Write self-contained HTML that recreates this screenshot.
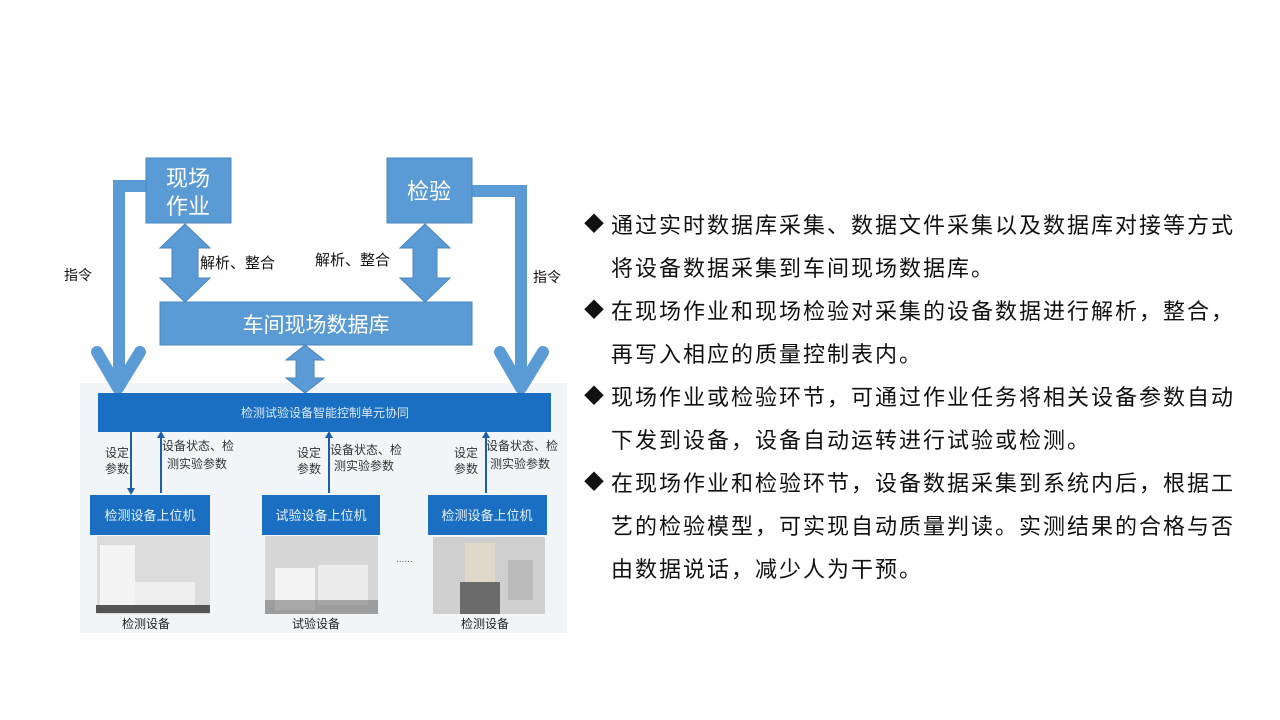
<!DOCTYPE html>
<html><head><meta charset="utf-8"><style>
body{margin:0;width:1280px;height:720px;background:#fff;overflow:hidden;position:relative;font-family:"Liberation Sans","Noto Sans CJK SC",sans-serif;}
.t{position:absolute;left:611px;font-size:22px;letter-spacing:2px;color:#111;line-height:43px;white-space:nowrap}
.b{position:absolute;left:584px;font-size:20px;color:#111;line-height:43px}
</style></head><body>
<svg width="1280" height="720" style="position:absolute;left:0;top:0" font-family="Liberation Sans, Noto Sans CJK SC, sans-serif">
<rect x="80" y="383" width="487" height="250" fill="#f2f5f8"/>
<path d="M146 186 H119 V385" fill="none" stroke="#5b9bd5" stroke-width="12"/>
<polyline points="97,352 118,388 140,352" fill="none" stroke="#5b9bd5" stroke-width="12" stroke-linecap="round" stroke-linejoin="round"/>
<path d="M471 191 H521 V385" fill="none" stroke="#5b9bd5" stroke-width="12"/>
<polyline points="500,352 521,388 543,352" fill="none" stroke="#5b9bd5" stroke-width="12" stroke-linecap="round" stroke-linejoin="round"/>
<rect x="146" y="158" width="85" height="65" fill="#5b9bd5" stroke="#4a86bd"/>
<text x="188" y="186" font-size="22" fill="#fff" text-anchor="middle">现场</text>
<text x="188" y="214" font-size="22" fill="#fff" text-anchor="middle">作业</text>
<rect x="387" y="158" width="85" height="65" fill="#5b9bd5" stroke="#4a86bd"/>
<text x="429" y="199" font-size="22" fill="#fff" text-anchor="middle">检验</text>
<polygon points="185,224 210,248 198,248 198,278 210,278 185,302 160,278 172,278 172,248 160,248" fill="#5b9bd5" stroke="#4a86bd"/>
<polygon points="425,224 450,248 437,248 437,278 450,278 425,302 400,278 413,278 413,248 400,248" fill="#5b9bd5" stroke="#4a86bd"/>
<text x="200" y="268" font-size="15" fill="#111">解析、整合</text>
<text x="315" y="265" font-size="15" fill="#111">解析、整合</text>
<text x="64" y="280" font-size="14" fill="#111">指令</text>
<text x="533" y="282" font-size="14" fill="#111">指令</text>
<rect x="160" y="302" width="312" height="43" fill="#5b9bd5" stroke="#4a86bd"/>
<text x="316" y="332" font-size="21" fill="#fff" text-anchor="middle">车间现场数据库</text>
<polygon points="305,345 324,360 314,360 314,378 324,378 305,393 286,378 296,378 296,360 286,360" fill="#5b9bd5" stroke="#4a86bd"/>
<rect x="98" y="393" width="453" height="39" fill="#1a6fc2"/>
<text x="325" y="417" font-size="12" fill="#dce9f7" text-anchor="middle">检测试验设备智能控制单元协同</text>
<g stroke="#1a5fa8" stroke-width="2">
<line x1="131" y1="432" x2="131" y2="490"/><line x1="161" y1="436" x2="161" y2="493"/>
<line x1="329" y1="436" x2="329" y2="493"/><line x1="486" y1="436" x2="486" y2="493"/>
</g>
<g fill="#1a5fa8"><polygon points="127,488 135,488 131,495"/><polygon points="157,438 165,438 161,431"/><polygon points="325,438 333,438 329,431"/><polygon points="482,438 490,438 486,431"/></g>
<g font-size="12" fill="#333">
<text x="105" y="457">设定</text><text x="105" y="473">参数</text>
<text x="162" y="450">设备状态、检</text><text x="167" y="468">测实验参数</text>
<text x="297" y="457">设定</text><text x="297" y="473">参数</text>
<text x="330" y="454">设备状态、检</text><text x="334" y="470">测实验参数</text>
<text x="454" y="457">设定</text><text x="454" y="473">参数</text>
<text x="486" y="450">设备状态、检</text><text x="490" y="468">测实验参数</text>
</g>
<rect x="90" y="495" width="120" height="40" fill="#1a6fc2"/>
<text x="150" y="520" font-size="13" fill="#e6f0fa" text-anchor="middle">检测设备上位机</text>
<rect x="262" y="495" width="118" height="40" fill="#1a6fc2"/>
<text x="321" y="520" font-size="13" fill="#e6f0fa" text-anchor="middle">试验设备上位机</text>
<rect x="428" y="495" width="119" height="40" fill="#1a6fc2"/>
<text x="487" y="520" font-size="13" fill="#e6f0fa" text-anchor="middle">检测设备上位机</text>
<rect x="97" y="536" width="113" height="78" fill="#dcdcdc"/>
<rect x="100" y="545" width="35" height="65" fill="#f4f4f4"/><rect x="135" y="582" width="60" height="27" fill="#eeeeee"/><rect x="96" y="605" width="114" height="8" fill="#555"/>
<rect x="265" y="536" width="113" height="78" fill="#d6d6d6"/>
<rect x="275" y="568" width="40" height="42" fill="#f3f3f3"/><rect x="318" y="565" width="50" height="40" fill="#ececec"/><rect x="265" y="600" width="113" height="14" fill="#777" opacity=".6"/>
<rect x="433" y="537" width="112" height="77" fill="#cfcfcf"/>
<rect x="465" y="543" width="30" height="55" fill="#e0d8c8"/><rect x="460" y="582" width="40" height="32" fill="#6b6b6b"/><rect x="508" y="560" width="25" height="40" fill="#bbb"/>
<text x="396" y="562" font-size="10" fill="#555">......</text>
<g font-size="12" fill="#222" text-anchor="middle">
<text x="146" y="628">检测设备</text><text x="316" y="628">试验设备</text><text x="485" y="628">检测设备</text>
</g>
</svg>
<div class="b" style="top:204px">◆</div>
<div class="b" style="top:290px">◆</div>
<div class="b" style="top:376px">◆</div>
<div class="b" style="top:462px">◆</div>
<div class="t" style="top:204px">通过实时数据库采集、数据文件采集以及数据库对接等方式<br>将设备数据采集到车间现场数据库。<br>在现场作业和现场检验对采集的设备数据进行解析，整合，<br>再写入相应的质量控制表内。<br>现场作业或检验环节，可通过作业任务将相关设备参数自动<br>下发到设备，设备自动运转进行试验或检测。<br>在现场作业和检验环节，设备数据采集到系统内后，根据工<br>艺的检验模型，可实现自动质量判读。实测结果的合格与否<br>由数据说话，减少人为干预。</div>
</body></html>
